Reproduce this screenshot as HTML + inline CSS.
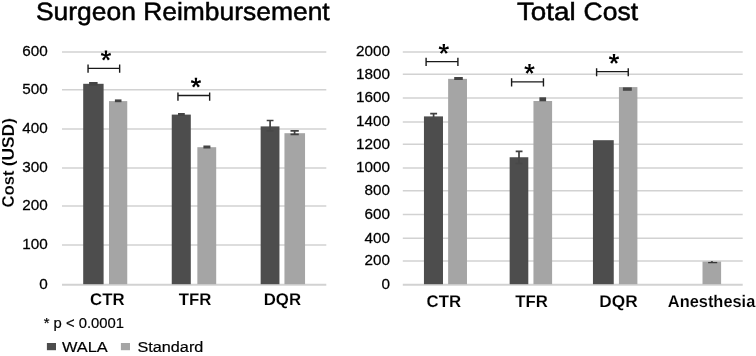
<!DOCTYPE html>
<html><head><meta charset="utf-8">
<style>
html,body{margin:0;padding:0;background:#fff;}
body{width:756px;height:356px;overflow:hidden;font-family:"Liberation Sans",sans-serif;}
svg{display:block;filter:grayscale(1);}
text{font-family:"Liberation Sans",sans-serif;fill:#000;}
.g{stroke:#d2d2d2;stroke-width:1.5;}
.d{fill:#4d4d4d;}
.l{fill:#a5a5a5;}
.e{stroke:#404040;stroke-width:1.7;fill:none;}
.b{stroke:#1a1a1a;stroke-width:1.4;fill:none;}
.t{font-size:14.7px;text-anchor:end;stroke:#000;stroke-width:0.25px;}
.x{font-size:16.8px;font-weight:bold;text-anchor:middle;stroke:#fff;stroke-width:0.12px;}
.a{font-size:26px;font-weight:bold;text-anchor:middle;}
</style></head><body>
<svg width="756" height="356" viewBox="0 0 756 356">
<rect width="756" height="356" fill="#fff"/>
<!-- titles -->
<text x="35.9" y="20.3" transform="skewX(0.05)" font-size="25" stroke="#000" stroke-width="0.5" textLength="293.8" lengthAdjust="spacingAndGlyphs">Surgeon Reimbursement</text>
<text x="516.9" y="20.3" transform="skewX(0.05)" font-size="25" stroke="#000" stroke-width="0.5" textLength="58.7" lengthAdjust="spacingAndGlyphs">Total</text>
<text x="638" y="20.3" transform="skewX(0.05)" font-size="25" stroke="#000" stroke-width="0.5" text-anchor="end" textLength="54.47" lengthAdjust="spacingAndGlyphs">Cost</text>
<!-- left gridlines -->
<g class="g">
<line x1="62" x2="326.3" y1="51.9" y2="51.9"/>
<line x1="62" x2="326.3" y1="89.7" y2="89.7"/>
<line x1="62" x2="326.3" y1="128.9" y2="128.9"/>
<line x1="62" x2="326.3" y1="167.9" y2="167.9"/>
<line x1="62" x2="326.3" y1="206.0" y2="206.0"/>
<line x1="62" x2="326.3" y1="245.1" y2="245.1"/>
<line x1="62" x2="326.3" y1="284.7" y2="284.7" stroke-width="2"/>
</g>
<!-- right gridlines -->
<g class="g">
<line x1="402.8" x2="742.7" y1="51.9" y2="51.9"/>
<line x1="402.8" x2="742.7" y1="74.3" y2="74.3"/>
<line x1="402.8" x2="742.7" y1="98.0" y2="98.0"/>
<line x1="402.8" x2="742.7" y1="122.0" y2="122.0"/>
<line x1="402.8" x2="742.7" y1="144.2" y2="144.2"/>
<line x1="402.8" x2="742.7" y1="168.1" y2="168.1"/>
<line x1="402.8" x2="742.7" y1="190.7" y2="190.7"/>
<line x1="402.8" x2="742.7" y1="214.5" y2="214.5"/>
<line x1="402.8" x2="742.7" y1="238.2" y2="238.2"/>
<line x1="402.8" x2="742.7" y1="261.0" y2="261.0"/>
<line x1="402.8" x2="742.7" y1="284.7" y2="284.7" stroke-width="2"/>
</g>
<!-- left tick labels -->
<g class="t" transform="scale(1.04,1)">
<text x="45.87" y="56.25">600</text>
<text x="45.87" y="94.05">500</text>
<text x="45.87" y="133.25">400</text>
<text x="45.87" y="172.25">300</text>
<text x="45.87" y="210.35">200</text>
<text x="45.87" y="249.45">100</text>
<text x="45.87" y="289.05">0</text>
</g>
<!-- right tick labels -->
<g class="t" transform="scale(1.04,1)">
<text x="374.90" y="56.25">2000</text>
<text x="374.90" y="78.65">1800</text>
<text x="374.90" y="102.35">1600</text>
<text x="374.90" y="126.35">1400</text>
<text x="374.90" y="148.55">1200</text>
<text x="374.90" y="172.45">1000</text>
<text x="374.90" y="195.05">800</text>
<text x="374.90" y="218.85">600</text>
<text x="374.90" y="242.55">400</text>
<text x="374.90" y="265.35">200</text>
<text x="374.90" y="289.05">0</text>
</g>
<!-- y-axis title -->
<text transform="translate(13.8,207.5) rotate(-90)" font-size="17" font-weight="bold" text-anchor="start" textLength="37" lengthAdjust="spacingAndGlyphs" stroke="#fff" stroke-width="0.12">Cost</text>
<text transform="translate(13.8,118.1) rotate(-90)" font-size="17" font-weight="bold" text-anchor="end" textLength="48.2" lengthAdjust="spacingAndGlyphs" stroke="#fff" stroke-width="0.12">(USD)</text>
<!-- left bars -->
<rect class="d" x="83.20" y="83.80" width="20.40" height="200.40"/>
<rect class="l" x="109.00" y="101.10" width="18.25" height="183.10"/>
<rect class="d" x="171.75" y="114.60" width="19.05" height="169.60"/>
<rect class="l" x="197.35" y="147.20" width="18.85" height="137.00"/>
<rect class="d" x="260.65" y="126.40" width="18.80" height="157.80"/>
<rect class="l" x="284.45" y="133.20" width="20.60" height="151.00"/>
<!-- left error bars -->
<rect x="89.1" y="82" width="8.5" height="3.6" fill="#444"/>
<rect x="114.9" y="99.4" width="6.6" height="2.8" fill="#444"/>
<rect x="178" y="113" width="6.8" height="3" fill="#444"/>
<rect x="203.4" y="145.5" width="7" height="3" fill="#444"/>
<g class="e">
<path d="M266.7 120.5H273.5M270.1 120.5V127"/><path d="M270.1 127V131M266.7 130.8H273.5" stroke="#484848"/>
<path d="M290.5 130.8H298.8M294.6 130.8V134.4M290.5 134.4H298.8"/>
</g>
<!-- left brackets -->
<g class="b">
<path d="M88.05 64.6V72.8M88.05 68.4H119.65M119.65 64.6V72.8"/>
<path d="M177.95 92.6V100.8M177.95 95.45H209.65M209.65 92.6V100.8"/>
</g>
<path class="s" d="M106.70 55.60L107.20 50.60L104.70 50.60L105.20 55.60ZM106.18 56.31L111.09 55.24L110.32 52.87L105.72 54.89ZM105.34 56.04L107.88 60.38L109.90 58.91L106.56 55.16ZM105.34 55.16L102.00 58.91L104.02 60.38L106.56 56.04ZM106.18 54.89L101.58 52.87L100.81 55.24L105.72 56.31Z" fill="#000"/>
<path class="s" d="M196.70 82.80L197.20 77.80L194.70 77.80L195.20 82.80ZM196.18 83.51L201.09 82.44L200.32 80.07L195.72 82.09ZM195.34 83.24L197.88 87.58L199.90 86.11L196.56 82.36ZM195.34 82.36L192.00 86.11L194.02 87.58L196.56 83.24ZM196.18 82.09L191.58 80.07L190.81 82.44L195.72 83.51Z" fill="#000"/>
<!-- right bars -->
<rect class="d" x="423.95" y="116.40" width="19.03" height="167.80"/>
<rect class="l" x="448.13" y="78.85" width="18.85" height="205.35"/>
<rect class="d" x="509.65" y="157.25" width="18.65" height="126.95"/>
<rect class="l" x="533.45" y="101.00" width="18.65" height="183.20"/>
<rect class="d" x="592.95" y="140.20" width="20.80" height="144.00"/>
<rect class="l" x="618.93" y="87.10" width="18.47" height="197.10"/>
<rect class="l" x="702.5" y="261.60" width="18.6" height="22.60"/>
<!-- right error bars -->
<g class="e">
<path d="M430.2 113.6H437.1M433.6 113.6V117"/><path d="M433.6 117V119M430.2 119.2H437.1" stroke="#4a4a4a"/>
<path d="M515.7 151.3H522.5M519 151.3V158"/><path d="M519 158V163M515.7 163.5H522.5" stroke="#484848"/>
</g>
<rect x="454.2" y="77" width="8.6" height="3" fill="#444"/>
<rect x="539.4" y="97.3" width="6.7" height="4" fill="#444"/>
<rect x="622.9" y="87.4" width="8.9" height="3.4" fill="#484848"/>
<path d="M708.1 262.6H717.2" stroke="#383838" stroke-width="1.3" fill="none"/><path d="M711.9 261.2V262.6" stroke="#383838" stroke-width="2" fill="none"/>
<!-- right brackets -->
<g class="b">
<path d="M426.1 57.7V66.1M426.1 61.6H457.9M457.9 57.7V66.1"/>
<path d="M511.6 78.2V86.5M511.6 81.9H543.45M543.45 78.2V86.5"/>
<path d="M596.6 68.2V76.3M596.6 71.6H628.25M628.25 68.2V76.3"/>
</g>
<path class="s" d="M444.58 49.07L445.08 44.07L442.58 44.07L443.08 49.07ZM444.06 49.78L448.97 48.71L448.20 46.34L443.60 48.36ZM443.22 49.51L445.76 53.85L447.78 52.38L444.44 48.63ZM443.22 48.63L439.88 52.38L441.90 53.85L444.44 49.51ZM444.06 48.36L439.46 46.34L438.69 48.71L443.60 49.78Z" fill="#000"/>
<path class="s" d="M530.25 68.95L530.75 63.95L528.25 63.95L528.75 68.95ZM529.73 69.66L534.64 68.59L533.87 66.22L529.27 68.24ZM528.89 69.39L531.43 73.73L533.45 72.26L530.11 68.51ZM528.89 68.51L525.55 72.26L527.57 73.73L530.11 69.39ZM529.73 68.24L525.13 66.22L524.36 68.59L529.27 69.66Z" fill="#000"/>
<path class="s" d="M614.75 59.00L615.25 54.00L612.75 54.00L613.25 59.00ZM614.23 59.71L619.14 58.64L618.37 56.27L613.77 58.29ZM613.39 59.44L615.93 63.78L617.95 62.31L614.61 58.56ZM613.39 58.56L610.05 62.31L612.07 63.78L614.61 59.44ZM614.23 58.29L609.63 56.27L608.86 58.64L613.77 59.71Z" fill="#000"/>
<!-- x labels -->
<g class="x" transform="skewX(0.05)">
<text x="107" y="305.35">CTR</text>
<text x="194.7" y="305.35">TFR</text>
<text x="282.1" y="305.35">DQR</text>
<text x="443.6" y="306.6">CTR</text>
<text x="531.3" y="306.6">TFR</text>
<text x="618.3" y="306.6" textLength="38.4" lengthAdjust="spacingAndGlyphs">DQR</text>
<text x="711.3" y="306.6" textLength="87.4" lengthAdjust="spacingAndGlyphs">Anesthesia</text>
</g>
<!-- footnote + legend -->
<text x="43.7" y="328.1" font-size="14.8" stroke="#000" stroke-width="0.2">* p &lt; 0.0001</text>
<rect class="d" x="46.9" y="343.0" width="9.1" height="7.2"/>
<text x="61.9" y="352.1" font-size="15.4" stroke="#000" stroke-width="0.2" textLength="45.8" lengthAdjust="spacingAndGlyphs">WALA</text>
<rect class="l" x="120.9" y="343.0" width="9.1" height="7.2"/>
<text x="137.5" y="352.1" font-size="15.4" stroke="#000" stroke-width="0.2" textLength="65.8" lengthAdjust="spacingAndGlyphs">Standard</text>
</svg>
</body></html>
